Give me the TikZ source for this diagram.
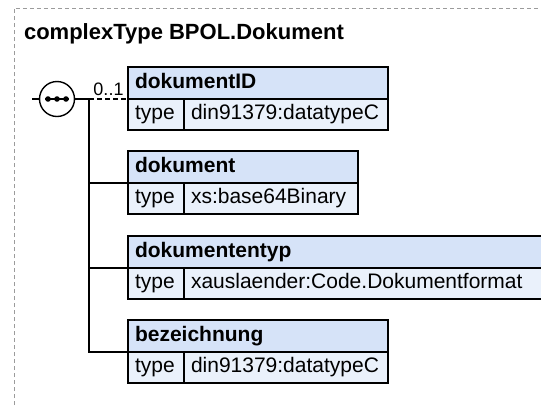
\documentclass[tikz,border=0pt]{standalone}
\usepackage{fontspec}
\setmainfont{Liberation Sans}
\usetikzlibrary{positioning}
\definecolor{headfill}{RGB}{214,227,248}
\definecolor{rowfill}{RGB}{234,241,251}
\definecolor{framegray}{RGB}{155,155,155}
\tikzset{
  cell/.style={draw, line width=1.4pt, anchor=north west, outer sep=0pt,
    inner xsep=7pt, inner ysep=0pt, text height=15pt, text depth=4.5pt,
    align=left, font=\fontsize{21}{25}\selectfont},
  elemhead/.style={cell, fill=headfill, minimum height=32pt,
    font=\bfseries\fontsize{21}{25}\selectfont},
  typecell/.style={cell, fill=rowfill, minimum height=31pt},
}

\begin{document}
\begin{tikzpicture}[x=1pt, y=-1pt, line width=1.4pt]
    \clip (0,0) rectangle (541,405);
    \draw[framegray, line width=1pt, dash pattern=on 4pt off 3pt] (14,405) -- (14,8) -- (541,8);
    \node[anchor=base west, font=\bfseries\fontsize{22}{26}\selectfont] (title) at (20,39) {complexType BPOL.Dokument};
    % the four elements
    \node[elemhead, text width=246pt] (dokid) at (128,67) {dokumentID};
    \node[typecell, text width=42pt] (dokid-key) at (dokid.south west) {type};
    \node[typecell, text width=190pt] (dokid-val) at (dokid-key.north east) {din91379:datatypeC};
    \node[elemhead, text width=216pt] (dok) at (128,151) {dokument};
    \node[typecell, text width=42pt] (dok-key) at (dok.south west) {type};
    \node[typecell, text width=160pt] (dok-val) at (dok-key.north east) {xs:base64Binary};
    \node[elemhead, text width=406pt] (doktyp) at (128,236) {dokumententyp};
    \node[typecell, text width=42pt] (doktyp-key) at (doktyp.south west) {type};
    \node[typecell, text width=350pt] (doktyp-val) at (doktyp-key.north east) {xauslaender:Code.Dokumentformat};
    \node[elemhead, text width=246pt] (bez) at (128,320) {bezeichnung};
    \node[typecell, text width=42pt] (bez-key) at (bez.south west) {type};
    \node[typecell, text width=190pt] (bez-val) at (bez-key.north east) {din91379:datatypeC};
    % sequence compositor
    \node[circle, draw, fill=white, minimum size=35pt, inner sep=0pt] (seq) at (57,99) {};
    \coordinate (in) at (32,99);
    \coordinate (fork) at (89,99);
    \draw (in) -- (seq.west);
    \draw (seq.east) -- (fork);
    \draw ([xshift=-12pt]seq.center) -- ([xshift=12pt]seq.center);
    \foreach \dx in {-9,0,9}
      \fill ([xshift=\dx pt]seq.center) circle (2.8pt);
    \draw[dash pattern=on 5pt off 3pt] (fork) -- (dokid.south west) node[midway, above=-1pt, font=\fontsize{18}{20}\selectfont] {0..1};
    \draw (fork) |- (dok.south west);
    \draw (fork) |- (doktyp.south west);
    \draw (fork) |- (bez.south west);
\end{tikzpicture}
\end{document}
